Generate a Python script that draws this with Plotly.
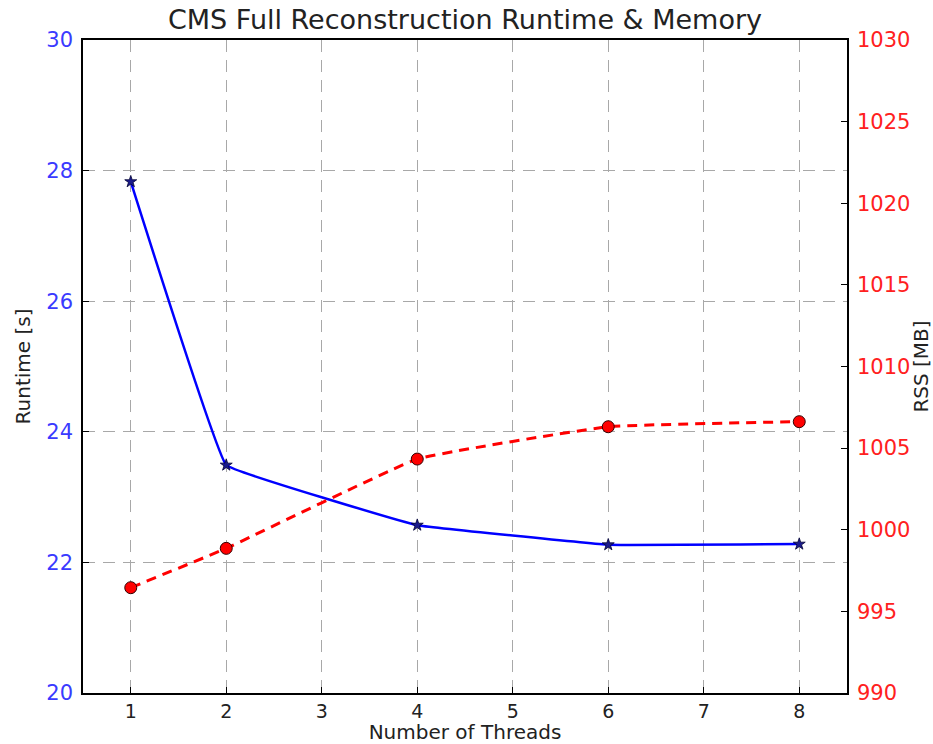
import plotly.graph_objects as go
from plotly.subplots import make_subplots

threads = [1, 2, 4, 6, 8]
runtime_s = [27.83, 23.49, 22.57, 22.27, 22.28]
rss_mb = [996.45, 998.86, 1004.33, 1006.31, 1006.62]
x_ticks = [1, 2, 3, 4, 5, 6, 7, 8]
left_ticks = [20, 22, 24, 26, 28, 30]
right_ticks = [990, 995, 1000, 1005, 1010, 1015, 1020, 1025, 1030]

FONT = "DejaVu Sans"

fig = make_subplots(specs=[[{"secondary_y": True}]])

fig.add_trace(go.Scatter(
    x=threads, y=runtime_s, mode="lines+markers",
    line=dict(color="#0000ff", width=2.5, shape="spline", smoothing=0.15),
    marker=dict(symbol="star", size=9, color="#1a1a8c", line=dict(color="#000033", width=0.8)),
    showlegend=False), secondary_y=False)

fig.add_trace(go.Scatter(
    x=threads, y=rss_mb, mode="lines+markers",
    line=dict(color="#ff0000", width=3, dash="10px,7px", shape="spline", smoothing=0.3),
    marker=dict(symbol="circle", size=12, color="#ff0000", line=dict(color="#330000", width=1)),
    showlegend=False), secondary_y=True)

fig.update_layout(
    width=933, height=744,
    margin=dict(l=83, r=86, t=40, b=51, autoexpand=False),
    paper_bgcolor="white", plot_bgcolor="white",
    font=dict(family=FONT, size=16, color="black"),
    title=dict(text="CMS Full Reconstruction Runtime & Memory", x=0.5, xref="paper",
               y=1 - 20 / 744, yref="container", yanchor="middle",
               font=dict(family=FONT, size=27, color="#222222")),
)

fig.update_xaxes(
    domain=[0, 1], automargin=False,
    range=[0.5, 8.5], tickvals=x_ticks, ticktext=[str(v) for v in x_ticks],
    ticks="inside", ticklen=6, tickcolor="black",
    showline=True, linecolor="black", linewidth=1.5, mirror=True,
    showgrid=True, gridcolor="#a8a8a8", gridwidth=1, griddash="12px,8px",
    zeroline=False, ticklabelstandoff=0,
    tickfont=dict(family=FONT, size=19, color="#222222"),
    title=dict(text="Number of Threads", standoff=0, font=dict(family=FONT, size=20, color="#222222")),
)

fig.update_yaxes(
    automargin=False,
    range=[20, 30], tickvals=left_ticks,
    ticks="inside", ticklen=6, tickcolor="black",
    showline=True, linecolor="black", linewidth=1.5, mirror=True,
    showgrid=True, gridcolor="#a8a8a8", gridwidth=1, griddash="12px,8px",
    zeroline=False, ticklabelstandoff=4,
    tickfont=dict(family=FONT, size=21, color="#3a3aff"),
    title=dict(text="Runtime [s]", standoff=10, font=dict(family=FONT, size=20, color="#222222")),
    secondary_y=False,
)

fig.update_yaxes(
    automargin=False,
    range=[990, 1030], tickvals=right_ticks,
    ticks="inside", ticklen=6, tickcolor="black",
    showline=True, linecolor="black", linewidth=1.5,
    showgrid=False, zeroline=False, ticklabelstandoff=4,
    tickfont=dict(family=FONT, size=21, color="#ff2020"),
    title=dict(text="RSS [MB]", standoff=6, font=dict(family=FONT, size=20, color="#222222")),
    secondary_y=True,
)

fig.write_html("out.html")
